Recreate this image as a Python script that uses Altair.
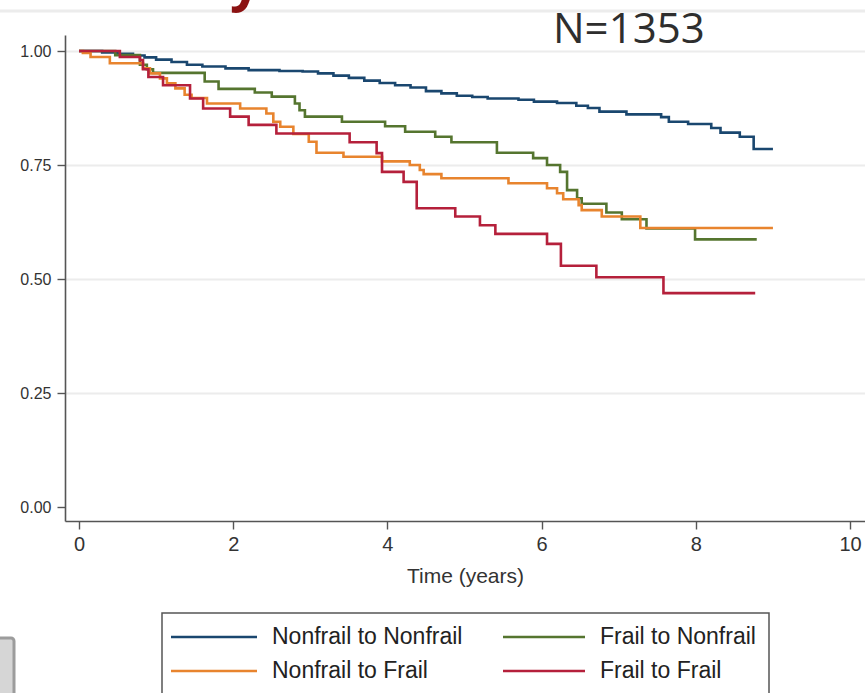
import altair as alt
import pandas as pd

# Kaplan-Meier survival estimates by frailty transition group
series = ["Nonfrail to Nonfrail", "Frail to Nonfrail", "Nonfrail to Frail", "Frail to Frail"]
colors = ["#1a476f", "#55752f", "#e8842e", "#b5203b"]

nn_time = [0, 0.3, 0.5, 0.7, 0.85, 1.0, 1.2, 1.4, 1.6, 1.9, 2.2, 2.6, 2.9, 3.1, 3.3, 3.5,
           3.7, 3.9, 4.1, 4.3, 4.5, 4.7, 4.9, 5.1, 5.3, 5.7, 5.9, 6.2, 6.45, 6.6, 6.75,
           7.1, 7.55, 7.65, 7.9, 8.2, 8.32, 8.57, 8.75, 9.0]
nn_surv = [1.0, 0.997, 0.994, 0.99, 0.986, 0.981, 0.976, 0.97, 0.966, 0.962, 0.958, 0.956,
           0.955, 0.951, 0.946, 0.941, 0.935, 0.93, 0.925, 0.92, 0.912, 0.907, 0.902, 0.899,
           0.896, 0.893, 0.889, 0.886, 0.88, 0.875, 0.867, 0.861, 0.855, 0.845, 0.84,
           0.831, 0.821, 0.812, 0.785, 0.785]

fn_time = [0, 0.47, 0.79, 0.88, 0.96, 1.63, 1.81, 2.28, 2.50, 2.80, 2.86, 2.93, 3.41, 3.97,
           4.23, 4.62, 4.83, 5.42, 5.89, 6.07, 6.24, 6.33, 6.46, 6.52, 6.84, 7.04, 7.36,
           7.99, 8.79]
fn_surv = [1.0, 0.991, 0.97, 0.96, 0.952, 0.933, 0.917, 0.909, 0.900, 0.885, 0.87, 0.856,
           0.845, 0.835, 0.823, 0.812, 0.8, 0.777, 0.765, 0.75, 0.735, 0.695, 0.677, 0.665,
           0.646, 0.631, 0.611, 0.587, 0.587]

nf_time = [0, 0.05, 0.15, 0.40, 0.83, 0.92, 1.05, 1.14, 1.25, 1.37, 1.46, 1.66, 2.09, 2.43,
           2.52, 2.61, 2.78, 2.98, 3.08, 3.43, 3.93, 4.29, 4.42, 4.47, 4.70, 5.57, 6.07,
           6.20, 6.28, 6.48, 6.52, 6.78, 7.28, 9.0]
nf_surv = [1.0, 0.996, 0.987, 0.973, 0.962, 0.951, 0.94, 0.929, 0.918, 0.904, 0.897, 0.885,
           0.874, 0.863, 0.845, 0.834, 0.818, 0.801, 0.777, 0.768, 0.758, 0.75, 0.739, 0.73,
           0.721, 0.71, 0.699, 0.688, 0.675, 0.662, 0.651, 0.637, 0.612, 0.612]

ff_time = [0, 0.53, 0.79, 0.83, 0.90, 1.09, 1.44, 1.61, 1.96, 2.20, 2.56, 3.51, 3.86, 3.93,
           4.21, 4.38, 4.88, 5.20, 5.40, 6.07, 6.25, 6.71, 7.58, 8.77]
ff_surv = [1.0, 0.987, 0.98, 0.96, 0.943, 0.925, 0.896, 0.874, 0.856, 0.838, 0.819, 0.8,
           0.776, 0.735, 0.713, 0.655, 0.637, 0.618, 0.599, 0.577, 0.529, 0.504, 0.469, 0.469]

x_ticks = [0, 2, 4, 6, 8, 10]
y_ticks = [0.0, 0.25, 0.5, 0.75, 1.0]

frames = []
for name, t, s in [(series[0], nn_time, nn_surv), (series[1], fn_time, fn_surv),
                   (series[2], nf_time, nf_surv), (series[3], ff_time, ff_surv)]:
    frames.append(pd.DataFrame({"group": name, "time": t, "surv": s}))
df = pd.concat(frames, ignore_index=True)

# single-row source for annotation marks so each is drawn once
one = pd.DataFrame({"k": [0]})

W, H = 800, 486
FONT = "Liberation Sans"

x_scale = alt.Scale(domain=[-0.1816, 10.194], nice=False, zero=False)
y_scale = alt.Scale(domain=[-0.0307, 1.0351], nice=False, zero=False)

curves = alt.Chart(df).mark_line(interpolate="step-after", strokeWidth=2.6).encode(
    x=alt.X("time:Q", scale=x_scale,
            axis=alt.Axis(values=x_ticks, title="Time (years)", tickSize=8,
                          tickColor="#555", domainColor="#555", domainWidth=1.6,
                          tickWidth=1.4, labelFontSize=20, labelFont=FONT,
                          labelColor="#333", labelPadding=5, titleFont=FONT,
                          titleFontSize=21, titleFontWeight="normal",
                          titleColor="#333", titlePadding=11, grid=False,
                          labelFlush=False)),
    y=alt.Y("surv:Q", scale=y_scale,
            axis=alt.Axis(values=y_ticks, format=".2f", title=None, tickSize=8,
                          tickColor="#555", domainColor="#555", domainWidth=1.6,
                          tickWidth=1.4, labelFontSize=16, labelFont=FONT,
                          labelColor="#333", labelPadding=6, grid=True,
                          gridColor="#ececec", gridWidth=2,
                          gridOpacity={"condition": {"test": "datum.value === 0", "value": 0},
                                       "value": 1})),
    color=alt.Color("group:N", scale=alt.Scale(domain=series, range=colors), legend=None),
    detail="group:N",
)

# faint rule across the top of the page
top_rule = alt.Chart(one).mark_rule(color="#ececec", strokeWidth=3).encode(
    x=alt.value(-70), x2=alt.value(W + 10), y=alt.value(-24)
)

# sample size note
n_text = alt.Chart(one).mark_text(
    text="N=1353", font="Open Sans", fontSize=42, color="#2e2e2e",
    align="left", baseline="alphabetic"
).encode(x=alt.value(488), y=alt.value(8))

# tail of the slide heading above
head_text = alt.Chart(one).mark_text(
    text="y", font="Open Sans", fontSize=54, fontWeight="bold", color="#8b1212",
    align="left", baseline="alphabetic"
).encode(x=alt.value(165), y=alt.value(-35))

# legend box with two columns of entries
legend_box = alt.Chart(one).mark_rect(
    fill="white", stroke="#555", strokeWidth=1.5
).encode(x=alt.value(97), x2=alt.value(704), y=alt.value(578), y2=alt.value(720))

legend_layers = []
entry_pos = [(106, 192, 207, 602), (438, 520, 535, 602),
             (106, 192, 207, 636), (438, 520, 535, 636)]
for name, col, (lx1, lx2, tx, ry) in zip(series, colors, entry_pos):
    legend_layers.append(
        alt.Chart(one).mark_rule(color=col, strokeWidth=2.6).encode(
            x=alt.value(lx1), x2=alt.value(lx2), y=alt.value(ry))
    )
    legend_layers.append(
        alt.Chart(one).mark_text(text=name, font=FONT, fontSize=23, color="#222",
                                 align="left", baseline="middle").encode(
            x=alt.value(tx), y=alt.value(ry))
    )

# grey panel edge at the lower left
side_box = alt.Chart(one).mark_rect(
    fill="#d6d6d6", stroke="#9c9c9c", strokeWidth=3, cornerRadius=3
).encode(x=alt.value(-80), x2=alt.value(-51), y=alt.value(603), y2=alt.value(720))

chart = alt.layer(
    top_rule, curves, n_text, head_text, legend_box, *legend_layers, side_box
).properties(
    width=W, height=H,
    autosize=alt.AutoSizeParams(type="none"),
    padding={"left": 65, "top": 35, "right": 0, "bottom": 172},
    background="white",
).configure_view(stroke=None)

chart.save("out.html", embed_options={"renderer": "svg", "actions": False})
